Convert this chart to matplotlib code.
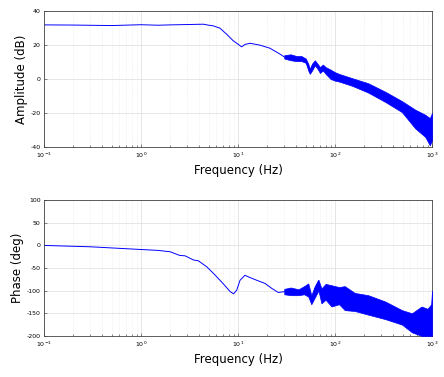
import numpy as np
import matplotlib
matplotlib.use("Agg")
import matplotlib.pyplot as plt
from matplotlib.ticker import LogLocator, NullFormatter

plt.rcParams['axes.unicode_minus'] = False
plt.rcParams['font.family'] = ['DejaVu Sans']

# amplitude trace (Hz, dB)
amp_f = [0.1, 0.2, 0.5, 1.0, 1.5, 2.0, 3.0, 4.4, 5.0, 5.5, 6.5, 7.65, 8.95, 10, 10.9,
         11.8, 13.3, 16.8, 21.3, 27, 30.5, 37, 42, 49, 52, 55.2, 58, 62, 66, 70,
         75.8, 80, 92, 100, 113, 155, 229, 341, 506, 695, 850, 952, 1000]
amp_db = [31.8, 31.7, 31.4, 31.9, 31.6, 31.8, 32.0, 32.2, 31.6, 31.3, 29.9, 26.3, 22.4, 20.5, 18.9,
          20.3, 21.0, 19.9, 18.1, 14.7, 12.7, 12.3, 11.7, 10.8, 8.0, 4.0, 7.5, 9.8, 8.0, 5.0,
          6.9, 6.0, 3.0, 1.5, 0.8, -1.8, -5.3, -10.5, -16.3, -24.0, -28.0, -31.0, -28.0]

# noisy band around the amplitude trace
amp_band_f = [30, 35, 40, 45, 50, 53, 55, 58, 62, 66, 70, 75, 80, 90, 100, 110, 150,
              220, 330, 490, 670, 850, 950, 1000]
amp_band_lo = [12, 11, 10.5, 10.5, 9.5, 5, 3, 5, 8, 6, 3.5, 5, 3, 0, -1, -1.5, -4,
               -8, -13.5, -19.5, -29, -34, -39, -36]
amp_band_hi = [14, 14.5, 13.5, 13.5, 12, 9, 6, 9, 11, 9, 7, 8.5, 7, 5.5, 4, 3, 0.5,
               -2.5, -7.5, -13, -18, -21, -23, -20]

# phase trace (Hz, deg)
ph_f = [0.1, 0.3, 1.0, 1.5, 2.0, 2.5, 2.85, 3.46, 3.9, 4.75, 5.6, 7.0, 8.3, 9.0, 9.7,
        10.5, 11.8, 13.3, 15.6, 19, 22.3, 26, 30.5, 35.8, 43.7, 51, 55, 57.5, 62, 67.8,
        72.5, 85, 100, 160, 240, 355, 530, 800, 950, 1000]
ph_deg = [0, -3, -9, -11, -14, -22, -23, -32, -34, -47, -62, -84, -102, -107, -99,
          -77, -66, -71, -77, -84, -95, -104, -102, -101, -101, -99, -110, -125, -95, -78,
          -115, -100, -110, -122, -135, -148, -160, -170, -165, -160]

ph_band_f = [30, 35, 42, 48, 53, 57, 62, 67.5, 72.5, 80, 92, 110, 126, 160, 220, 330,
             490, 620, 780, 900, 980, 1000]
ph_band_lo = [-108, -110, -110, -108, -113, -130, -115, -100, -128, -120, -135, -130, -143, -145, -153, -163,
              -175, -192, -200, -200, -200, -200]
ph_band_hi = [-96, -93, -97, -90, -84, -110, -90, -76, -95, -85, -88, -92, -90, -105, -110, -124,
              -143, -150, -135, -140, -130, -100]

xticks = [0.1, 1, 10, 100, 1000]
xlabels = ['$10^{-1}$', '$10^{0}$', '$10^{1}$', '$10^{2}$', '$10^{3}$']

fig = plt.figure(figsize=(4.44, 3.77), dpi=100)
ax1 = fig.add_axes([0.099, 0.610, 0.874, 0.361])
ax2 = fig.add_axes([0.099, 0.109, 0.874, 0.360])

blue = '#0000ff'


def style(ax, yticks):
    ax.set_xscale('log')
    ax.set_xlim(0.1, 1000)
    ax.set_xticks(xticks)
    ax.set_xticklabels(xlabels)
    ax.xaxis.set_minor_locator(LogLocator(base=10, subs=np.arange(2, 10), numticks=20))
    ax.xaxis.set_minor_formatter(NullFormatter())
    ax.set_yticks(yticks)
    ax.set_ylim(yticks[0], yticks[-1])
    ax.tick_params(which='both', direction='in', labelsize=4.5, pad=2.5, width=0.5, color='#555555')
    ax.tick_params(which='major', length=2.5)
    ax.tick_params(which='minor', length=1.5)
    ax.grid(True, which='major', color='#e2e2e2', lw=0.6)
    ax.grid(True, which='minor', color='#e6e6e6', lw=0.5, ls=':')
    ax.set_axisbelow(True)
    for s in ax.spines.values():
        s.set_color('#444444')
        s.set_linewidth(0.6)
    ax.set_xlabel('Frequency (Hz)', fontsize=8.5, labelpad=3)


# the line goes under the noise band
ax1.plot(amp_f, amp_db, color=blue, lw=0.7, zorder=2)
ax1.fill_between(amp_band_f, amp_band_lo, amp_band_hi, color=blue, lw=0.5, zorder=3)
style(ax1, [-40, -20, 0, 20, 40])
ax1.set_ylabel('Amplitude (dB)', fontsize=8.5, labelpad=2)

ax2.plot(ph_f, ph_deg, color=blue, lw=0.7, zorder=2)
ax2.fill_between(ph_band_f, ph_band_lo, ph_band_hi, color=blue, lw=0.5, zorder=3)
style(ax2, [-200, -150, -100, -50, 0, 50, 100])
ax2.set_ylabel('Phase (deg)', fontsize=8.5, labelpad=2)

fig.savefig('out.png', dpi=100)
